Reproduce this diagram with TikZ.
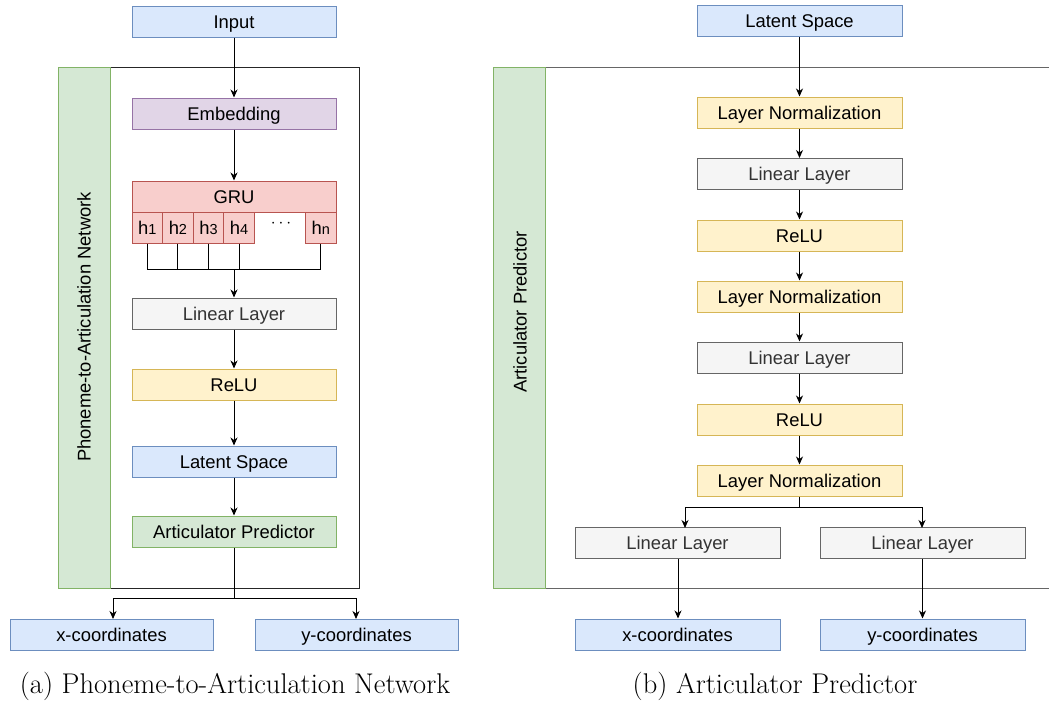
\documentclass[tikz,border=0pt]{standalone}
\usepackage{fontspec}
\newfontfamily\arial{Liberation Sans}
\usetikzlibrary{arrows.meta}
\definecolor{bfill}{HTML}{DAE8FC}\definecolor{bline}{HTML}{6C8EBF}
\definecolor{pfill}{HTML}{E1D5E7}\definecolor{pline}{HTML}{9673A6}
\definecolor{rfill}{HTML}{F8CECC}\definecolor{rline}{HTML}{B85450}
\definecolor{gfill}{HTML}{F5F5F5}\definecolor{gline}{HTML}{666666}\definecolor{gtext}{HTML}{333333}
\definecolor{yfill}{HTML}{FFF2CC}\definecolor{yline}{HTML}{D6B656}
\definecolor{nfill}{HTML}{D5E8D4}\definecolor{nline}{HTML}{82B366}
\tikzset{
  box/.style={draw, line width=1pt, minimum width=204pt, minimum height=31pt, inner sep=0pt, text height=15pt, text depth=2pt, font=\arial\fontsize{18.4}{20}\selectfont},
  bluebox/.style={box, fill=bfill, draw=bline},
  purplebox/.style={box, fill=pfill, draw=pline},
  redbox/.style={box, fill=rfill, draw=rline},
  graybox/.style={box, fill=gfill, draw=gline, text=gtext},
  yellowbox/.style={box, fill=yfill, draw=yline},
  greenbox/.style={box, fill=nfill, draw=nline},
  hcell/.style={redbox, minimum width=30.6pt},
  arr/.style={line width=1pt, -{Stealth[length=8pt,width=7pt,inset=2.5pt]}},
  conn/.style={line width=1pt},
  caption/.style={font=\fontsize{28.5}{32}\selectfont},
  strip/.style={draw=nline, fill=nfill, line width=1pt},
  striplabel/.style={rotate=90, font=\arial\fontsize{18.4}{20}\selectfont},
}
\begin{document}
\begin{tikzpicture}[x=1pt,y=-1pt]
\useasboundingbox (0,0) rectangle (1049,704);
% ---------- left panel ----------
\draw[line width=1pt, draw=black!85] (110,67) rectangle (359,588);
\draw[strip] (58,67) rectangle (110,588);
\node[striplabel] (lstrip) at (84,327) {Phoneme-to-Articulation Network};
\node[bluebox] (in) at (234,21.5) {Input};
\node[purplebox] (emb) at (234,113.5) {Embedding};
\node[redbox] (gru) at (234,196.5) {GRU};
\node[hcell] (h1) at (147.3,227.5) {h{\fontsize{14.5}{14}\selectfont 1}};
\node[hcell] (h2) at (177.9,227.5) {h{\fontsize{14.5}{14}\selectfont 2}};
\node[hcell] (h3) at (208.5,227.5) {h{\fontsize{14.5}{14}\selectfont 3}};
\node[hcell] (h4) at (239.1,227.5) {h{\fontsize{14.5}{14}\selectfont 4}};
\node[hcell] (hn) at (320.7,227.5) {h{\fontsize{14.5}{14}\selectfont n}};
\node[font=\fontsize{17}{20}\selectfont] (dots) at (281,224) {$\cdots$};
\coordinate (hj) at (234,269.5);
\draw[conn] (h1.south) -- (h1.south |- hj) -- (hn.south |- hj) -- (hn.south);
\draw[conn] (h2.south) -- (h2.south |- hj);
\draw[conn] (h3.south) -- (h3.south |- hj);
\draw[conn] (h4.south) -- (h4.south |- hj);
\node[graybox] (lin0) at (234,313.5) {Linear Layer};
\node[yellowbox] (relu0) at (234,384.5) {ReLU};
\node[bluebox] (lat0) at (234,461.5) {Latent Space};
\node[greenbox] (ap) at (234,531.5) {Articulator Predictor};
\node[bluebox, minimum width=203pt] (xc) at (111.5,634.5) {x-coordinates};
\node[bluebox, minimum width=203pt] (yc) at (356.5,634.5) {y-coordinates};
\draw[arr] (in) -- (emb);
\draw[arr] (emb) -- (gru);
\draw[arr] (hj) -- (lin0);
\draw[arr] (lin0) -- (relu0);
\draw[arr] (relu0) -- (lat0);
\draw[arr] (lat0) -- (ap);
\coordinate (sp0) at (234,598);
\draw[conn] (ap.south) -- (sp0);
\draw[arr] (sp0) -| (113,619);
\draw[arr] (sp0) -| (356,619);
\node[caption] (capa) at (235,686) {(a) Phoneme-to-Articulation Network};
% ---------- right panel ----------
\draw[line width=1pt, draw=black!60] (545,67) -- (1049,67);
\draw[line width=1pt, draw=black!60] (545,588) -- (1049,588);
\draw[strip] (493,67) rectangle (545,588);
\node[striplabel] (rstrip) at (520,312) {Articulator Predictor};
\node[bluebox, minimum width=205pt] (lat1) at (799.5,21) {Latent Space};
\node[yellowbox, minimum width=205pt] (ln1) at (799.5,112.5) {Layer Normalization};
\node[graybox, minimum width=205pt] (lin1) at (799.5,174) {Linear Layer};
\node[yellowbox, minimum width=205pt] (relu1) at (799.5,235.5) {ReLU};
\node[yellowbox, minimum width=205pt] (ln2) at (799.5,296.5) {Layer Normalization};
\node[graybox, minimum width=205pt] (lin2) at (799.5,357.5) {Linear Layer};
\node[yellowbox, minimum width=205pt] (relu2) at (799.5,419.5) {ReLU};
\node[yellowbox, minimum width=205pt] (ln3) at (799.5,480.5) {Layer Normalization};
\node[graybox, minimum width=205pt] (linA) at (677.5,543) {Linear Layer};
\node[graybox, minimum width=205pt] (linB) at (922.5,543) {Linear Layer};
\node[bluebox, minimum width=205pt] (xr) at (677.5,634.5) {x-coordinates};
\node[bluebox, minimum width=205pt] (yr) at (922.5,634.5) {y-coordinates};
\draw[arr] (lat1) -- (ln1);
\draw[arr] (ln1) -- (lin1);
\draw[arr] (lin1) -- (relu1);
\draw[arr] (relu1) -- (ln2);
\draw[arr] (ln2) -- (lin2);
\draw[arr] (lin2) -- (relu2);
\draw[arr] (relu2) -- (ln3);
\coordinate (sp1) at (799.5,507);
\draw[conn] (ln3.south) -- (sp1);
\draw[arr] (sp1) -| (685,528);
\draw[arr] (sp1) -| (922,528);
\draw[arr] (linA.south -| 678,0) -- (xr.north -| 678,0);
\draw[arr] (linB) -- (yr);
\node[caption] (capb) at (775,686) {(b) Articulator Predictor};
\end{tikzpicture}
\end{document}
